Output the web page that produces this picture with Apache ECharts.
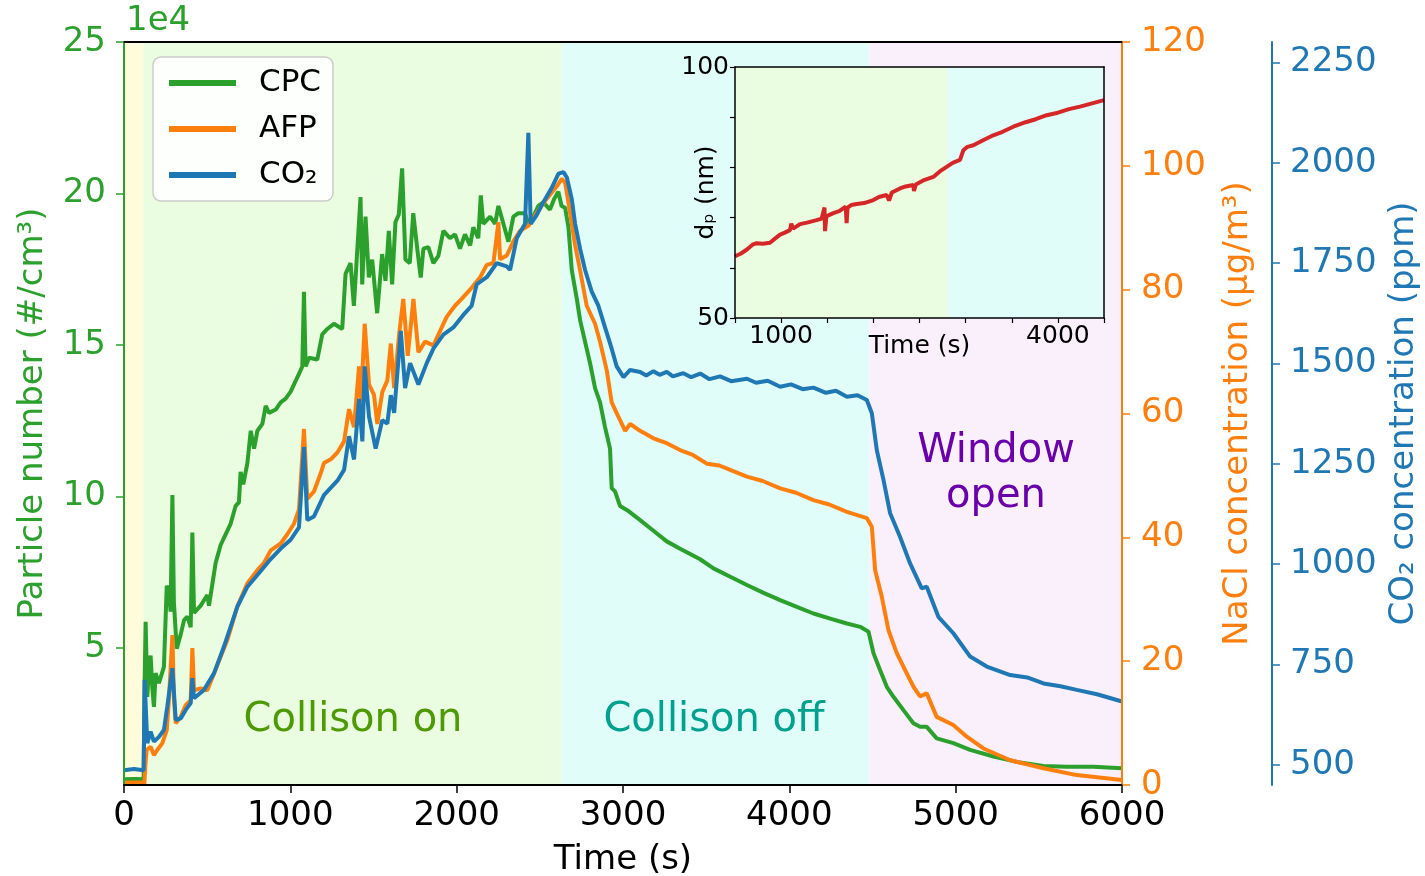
<!DOCTYPE html>
<html>
<head>
<meta charset="utf-8">
<title>Particle number, NaCl and CO2</title>
<script src="https://cdn.jsdelivr.net/npm/echarts@6/dist/echarts.min.js"></script>
<style>
  html, body { margin: 0; padding: 0; background: #fff; }
  #chart { width: 1425px; height: 876px; }
</style>
</head>
<body>
<div id="chart"></div>
<script>
// 颜色 (matplotlib tab10)
var GREEN = '#2ca02c', ORANGE = '#ff7f0e', BLUE = '#1f77b4', RED = '#d62728';
var FONT = 'DejaVu Sans';

// CPC  (#/cm3)
var cpcTime = [0, 60, 118, 124, 130, 140, 150, 160, 170, 180, 190, 210, 240, 257, 270, 280, 291, 300, 317, 341,
  361, 381, 401, 411, 421, 461, 501, 511, 531, 551, 581, 611, 641, 671, 691, 701, 717, 742, 762, 782,
  802, 832, 852, 872, 912, 942, 972, 1002, 1022, 1052, 1072, 1082, 1092, 1112, 1162, 1192, 1222, 1262, 1312, 1332,
  1362, 1382, 1422, 1432, 1452, 1472, 1492, 1522, 1552, 1572, 1592, 1612, 1632, 1652, 1672, 1692, 1718, 1739, 1763, 1784,
  1800, 1830, 1860, 1890, 1920, 1960, 1990, 2020, 2050, 2081, 2100, 2130, 2145, 2160, 2201, 2231, 2251, 2281, 2311, 2341,
  2371, 2411, 2431, 2461, 2491, 2521, 2561, 2586, 2611, 2631, 2652, 2672, 2692, 2722, 2742, 2772, 2802, 2832, 2862, 2892,
  2922, 2932, 2952, 2982, 3033, 3103, 3183, 3263, 3343, 3464, 3544, 3645, 3745, 3845, 3945, 4045, 4145, 4246, 4346, 4426,
  4476, 4506, 4546, 4586, 4626, 4686, 4746, 4786, 4826, 4886, 4986, 5087, 5227, 5388, 5528, 5668, 5829, 6000];
var cpcValue = [6700, 6800, 6700, 39000, 58700, 33900, 43000, 47500, 37000, 30600, 41700, 38400, 43800, 70500, 69100, 62000, 100500, 65000, 49800, 54500,
  59200, 60400, 56900, 88100, 61600, 64000, 67500, 64000, 71000, 78100, 84000, 87500, 91000, 96900, 98100, 108100, 104000, 111100, 121700, 115800,
  121700, 124000, 129900, 127600, 128700, 131100, 132300, 134600, 137000, 140500, 142900, 167600, 142900, 145800, 145200, 153500, 155300, 157000, 155300, 173500,
  177000, 162900, 198800, 170000, 192400, 172300, 178200, 160500, 180000, 171200, 187700, 170000, 190600, 193000, 208300, 178200, 177000, 193500, 181800, 172300,
  181800, 182300, 177000, 179400, 187700, 185300, 186500, 181800, 186500, 182900, 188800, 185300, 199400, 190000, 192400, 190000, 195900, 190000, 184100, 192400,
  193500, 193500, 190000, 192400, 195900, 197100, 194700, 198200, 200600, 195900, 195300, 188800, 174700, 165300, 158200, 151100, 144000, 135800, 131100, 122900,
  115800, 102800, 101700, 96900, 95200, 92200, 88700, 85200, 82800, 79300, 76300, 73500, 70800, 68200, 65800, 63600, 61400, 59700, 58100, 57000,
  55400, 48300, 42700, 37200, 33900, 29500, 25200, 24000, 24000, 20200, 18600, 16400, 14200, 12200, 11100, 10800, 10800, 10300];

// AFP NaCl (µg/m3)
var afpTime = [0, 60, 118, 122, 128, 136, 160, 180, 200, 230, 257, 270, 291, 300, 311, 341, 371, 401, 411, 421,
  461, 501, 541, 581, 621, 681, 742, 802, 842, 882, 942, 982, 1022, 1052, 1082, 1102, 1142, 1182, 1202, 1243,
  1283, 1323, 1353, 1383, 1413, 1425, 1447, 1473, 1503, 1523, 1553, 1583, 1604, 1624, 1654, 1679, 1706, 1740, 1770, 1810,
  1860, 1900, 1940, 1990, 2030, 2090, 2141, 2181, 2221, 2251, 2261, 2301, 2341, 2381, 2431, 2481, 2542, 2602, 2632, 2652,
  2682, 2712, 2742, 2782, 2832, 2862, 2902, 2932, 2972, 3013, 3043, 3103, 3183, 3263, 3343, 3420, 3504, 3580, 3644, 3745,
  3840, 3945, 4040, 4145, 4240, 4346, 4466, 4496, 4516, 4556, 4596, 4646, 4686, 4746, 4786, 4826, 4886, 4986, 5067, 5167,
  5328, 5528, 5728, 6000];
var afpValue = [0.4, 0.4, 0.4, 0, 3.0, 5.65, 6.18, 4.84, 5.65, 6.73, 8.88, 13.7, 24.2, 14.0, 9.96, 11.0, 12.9, 13.7, 22.1, 15.3,
  15.6, 15.3, 18.0, 20.7, 23.4, 28.8, 32.6, 34.7, 35.9, 37.9, 39.0, 40.5, 42.2, 44.5, 57.5, 46.2, 47.4, 50.3, 52.0, 52.6,
  53.7, 55.5, 60.7, 57.8, 67.6, 61.8, 74.5, 64.7, 63.0, 58.3, 63.5, 65.3, 71.3, 64.1, 72.8, 78.5, 69.3, 78.5, 69.9, 71.6,
  71.0, 73.3, 75.6, 77.4, 78.5, 80.3, 82.0, 84.0, 84.3, 90.9, 84.9, 85.5, 87.8, 89.5, 90.3, 92.4, 94.7, 96.7, 97.9, 97.3,
  92.4, 87.2, 83.1, 77.4, 74.5, 71.6, 67.0, 61.8, 59.5, 57.2, 58.3, 57.2, 56.0, 55.2, 54.1, 53.3, 51.9, 51.6, 50.9, 49.8,
  49.1, 47.9, 47.2, 46.0, 45.3, 44.1, 43.1, 41.7, 34.7, 30.4, 25.0, 21.3, 19.1, 15.9, 14.3, 14.8, 11.0, 9.7, 7.8, 5.9,
  4.0, 2.7, 1.6, 0.8];

// CO2 (ppm)
var co2Time = [0, 60, 118, 124, 140, 160, 180, 210, 240, 260, 291, 311, 341, 371, 401, 411, 421, 481, 541, 601,
  681, 742, 802, 882, 942, 1002, 1052, 1082, 1102, 1142, 1202, 1283, 1323, 1353, 1383, 1413, 1433, 1447, 1473, 1513,
  1553, 1583, 1604, 1624, 1664, 1690, 1720, 1770, 1820, 1860, 1920, 1980, 2040, 2090, 2120, 2181, 2241, 2301, 2321, 2361,
  2411, 2431, 2445, 2481, 2521, 2571, 2612, 2642, 2662, 2692, 2712, 2742, 2772, 2812, 2852, 2892, 2932, 2962, 3003, 3043,
  3103, 3140, 3183, 3220, 3263, 3300, 3363, 3410, 3464, 3520, 3584, 3650, 3745, 3800, 3870, 3945, 4010, 4080, 4145, 4220,
  4280, 4346, 4410, 4466, 4496, 4526, 4566, 4606, 4666, 4726, 4796, 4826, 4896, 4986, 5087, 5187, 5328, 5430, 5528, 5630,
  5728, 5850, 6000];
var co2Value = [487, 490, 487, 712, 554, 583, 558, 570, 587, 645, 741, 612, 616, 637, 654, 716, 666, 687, 728, 795,
  894, 944, 973, 1013, 1039, 1061, 1092, 1292, 1110, 1119, 1172, 1208, 1235, 1319, 1261, 1412, 1306, 1493, 1368, 1288,
  1359, 1350, 1421, 1377, 1581, 1439, 1501, 1448, 1501, 1537, 1572, 1590, 1621, 1644, 1697, 1715, 1750, 1742, 1733, 1812,
  1848, 2075, 1848, 1870, 1902, 1937, 1973, 1977, 1964, 1910, 1848, 1786, 1733, 1679, 1644, 1590, 1537, 1493, 1466, 1484,
  1479, 1470, 1481, 1472, 1479, 1468, 1476, 1466, 1475, 1461, 1468, 1456, 1462, 1452, 1457, 1442, 1448, 1436, 1440, 1427,
  1432, 1417, 1421, 1409, 1376, 1284, 1210, 1127, 1068, 1002, 940, 944, 869, 828, 770, 745, 724, 718, 703, 696,
  687, 676, 658];

// 插图: dp (nm)
var dpTime = [500, 560, 626, 690, 735, 800, 879, 940, 988, 1040, 1096, 1110, 1130, 1205, 1280, 1385, 1440, 1470, 1476, 1490,
  1530, 1566, 1630, 1700, 1710, 1720, 1760, 1819, 1900, 2000, 2060, 2144, 2170, 2200, 2289, 2350, 2433, 2440, 2460, 2540,
  2650, 2720, 2794, 2860, 2939, 2960, 2975, 3020, 3084, 3200, 3300, 3400, 3517, 3650, 3760, 3879, 4000, 4120, 4240, 4380, 4500];
var dpValue = [62.3, 62.8, 63.6, 64.6, 64.9, 64.8, 65.0, 65.9, 66.6, 67.0, 67.5, 68.8, 67.8, 68.7, 69.0, 69.5, 69.8, 72.0, 67.3, 70.2,
  70.6, 70.9, 71.3, 72.2, 68.9, 72.0, 72.5, 72.7, 72.9, 73.5, 74.1, 74.5, 73.4, 75.0, 75.8, 76.2, 76.5, 75.3, 76.6, 77.4,
  78.1, 79.2, 80.1, 80.9, 81.5, 81.8, 83.4, 84.1, 84.4, 85.5, 86.4, 87.1, 88.1, 89.0, 89.6, 90.4, 90.9, 91.6, 92.1, 92.8, 93.4];

// 背景分区
var phaseEdges = [0, 116, 2632, 4482, 6000];
var phaseColors = ['#fffcdc', '#ebfde0', '#e0fdfa', '#f9f0fc'];
var insetEdges = [500, 2802, 4500];
var insetColors = ['#ebfde0', '#e0fdfa'];

var cpcTicks = [50000, 100000, 150000, 200000, 250000];
var co2Ticks = [500, 750, 1000, 1250, 1500, 1750, 2000, 2250];

function zip(a, b) {
    var out = [];
    for (var i = 0; i < a.length; i++) out.push([a[i], b[i]]);
    return out;
}
function bands(edges, colors) {
    var out = [];
    for (var i = 0; i < colors.length; i++) {
        out.push([{ xAxis: edges[i], itemStyle: { color: colors[i] } }, { xAxis: edges[i + 1] }]);
    }
    return out;
}
function plain(v) { return String(v); }

var chart = echarts.init(document.getElementById('chart'), null, { renderer: 'canvas' });

var tickFont = { fontFamily: FONT, fontSize: 34 };
var insetFont = { fontFamily: FONT, fontSize: 25, color: '#000' };

var option = {
    animation: false,
    backgroundColor: '#fff',
    textStyle: { fontFamily: FONT },
    grid: [
        { left: 124, right: 303, top: 42, bottom: 91, outerBoundsMode: 'none', containLabel: false },
        { left: 735, top: 67, width: 369, height: 251, outerBoundsMode: 'none', containLabel: false }
    ],
    legend: {
        data: ['CPC', 'AFP', 'CO₂'],
        orient: 'vertical',
        left: 153, top: 57,
        itemWidth: 67, itemHeight: 6, itemGap: 14,
        icon: 'rect',
        padding: [10, 12, 10, 16],
        backgroundColor: 'rgba(255,255,255,0.85)',
        borderColor: '#cccccc', borderWidth: 1.5, borderRadius: 8,
        textStyle: { fontFamily: FONT, fontSize: 31, color: '#000', padding: [0, 0, 0, 18], lineHeight: 32 }
    },
    xAxis: [
        {
            type: 'value', gridIndex: 0, min: 0, max: 6000, interval: 1000, z: 10,
            axisLine: { show: true, onZero: false, lineStyle: { color: '#000', width: 2 } },
            axisTick: { show: true, length: 8, lineStyle: { color: '#000', width: 1.5 } },
            axisLabel: Object.assign({ color: '#000', margin: 14, formatter: plain }, tickFont),
            splitLine: { show: false },
            name: 'Time (s)', nameLocation: 'middle', nameGap: 58, nameMoveOverlap: false,
            nameTextStyle: { fontFamily: FONT, fontSize: 34, color: '#000' }
        },
        {
            type: 'value', gridIndex: 0, position: 'top', min: 0, max: 6000, z: 10,
            axisLine: { show: true, onZero: false, lineStyle: { color: '#000', width: 2 } },
            axisTick: { show: false }, axisLabel: { show: false }, splitLine: { show: false }
        },
        {
            type: 'value', gridIndex: 1, min: 500, max: 4500, interval: 500, z: 10,
            axisLine: { show: true, onZero: false, lineStyle: { color: '#000', width: 1.5 } },
            axisTick: { show: true, length: 5, lineStyle: { color: '#000', width: 1.2 } },
            axisLabel: Object.assign({
                margin: 6,
                formatter: function (v) { return (v === 1000 || v === 4000) ? String(v) : ''; }
            }, insetFont),
            splitLine: { show: false },
            name: 'Time (s)', nameLocation: 'middle', nameGap: 16, nameMoveOverlap: false,
            nameTextStyle: insetFont
        },
        {
            type: 'value', gridIndex: 1, position: 'top', min: 500, max: 4500, z: 10,
            axisLine: { show: true, onZero: false, lineStyle: { color: '#000', width: 1.5 } },
            axisTick: { show: false }, axisLabel: { show: false }, splitLine: { show: false }
        }
    ],
    yAxis: [
        {
            type: 'value', gridIndex: 0, position: 'left', min: 4800, max: 250000, z: 10,
            axisLine: { show: true, onZero: false, lineStyle: { color: GREEN, width: 2 } },
            axisTick: { show: true, length: 8, customValues: cpcTicks, lineStyle: { color: GREEN, width: 1.5 } },
            axisLabel: Object.assign({
                color: GREEN, margin: 18, customValues: cpcTicks,
                formatter: function (v) { return String(Math.round(v / 1e4)); }
            }, tickFont),
            splitLine: { show: false },
            name: 'Particle number (#/cm³)', nameLocation: 'middle', nameRotate: 90, nameGap: 74, nameMoveOverlap: false,
            nameTextStyle: { fontFamily: FONT, fontSize: 34, color: GREEN }
        },
        {
            type: 'value', gridIndex: 0, position: 'right', min: 0, max: 120, interval: 20, z: 10,
            axisLine: { show: true, onZero: false, lineStyle: { color: ORANGE, width: 2 } },
            axisTick: { show: true, length: 8, lineStyle: { color: ORANGE, width: 1.5 } },
            axisLabel: Object.assign({ color: ORANGE, margin: 19, formatter: plain }, tickFont),
            splitLine: { show: false },
            name: 'NaCl concentration (µg/m³)', nameLocation: 'middle', nameRotate: 90, nameGap: 99, nameMoveOverlap: false,
            nameTextStyle: { fontFamily: FONT, fontSize: 34, color: ORANGE }
        },
        {
            type: 'value', gridIndex: 0, position: 'right', offset: 150, min: 450, max: 2301, z: 10,
            axisLine: { show: true, onZero: false, lineStyle: { color: BLUE, width: 2 } },
            axisTick: { show: true, length: 8, customValues: co2Ticks, lineStyle: { color: BLUE, width: 1.5 } },
            axisLabel: Object.assign({ color: BLUE, margin: 18, customValues: co2Ticks, formatter: plain }, tickFont),
            splitLine: { show: false },
            name: 'CO₂ concentration (ppm)', nameLocation: 'middle', nameRotate: 90, nameGap: 115, nameMoveOverlap: false,
            nameTextStyle: { fontFamily: FONT, fontSize: 34, color: BLUE }
        },
        {
            type: 'value', gridIndex: 1, position: 'left', min: 50, max: 100, interval: 10, z: 10,
            axisLine: { show: true, onZero: false, lineStyle: { color: '#000', width: 1.5 } },
            axisTick: { show: true, length: 5, lineStyle: { color: '#000', width: 1.2 } },
            axisLabel: Object.assign({
                margin: 6,
                formatter: function (v) { return (v === 50 || v === 100) ? String(v) : ''; }
            }, insetFont),
            splitLine: { show: false },
            name: 'dₚ (nm)', nameLocation: 'middle', nameRotate: 90, nameGap: 16, nameMoveOverlap: false,
            nameTextStyle: insetFont
        },
        {
            type: 'value', gridIndex: 1, position: 'right', min: 50, max: 100, z: 10,
            axisLine: { show: true, onZero: false, lineStyle: { color: '#000', width: 1.5 } },
            axisTick: { show: false }, axisLabel: { show: false }, splitLine: { show: false }
        }
    ],
    series: [
        {
            name: 'phases', type: 'line', xAxisIndex: 0, yAxisIndex: 1, data: [], z: 1, silent: true,
            markArea: { silent: true, data: bands(phaseEdges, phaseColors) }
        },
        {
            name: 'CPC', type: 'line', xAxisIndex: 0, yAxisIndex: 0, data: zip(cpcTime, cpcValue),
            showSymbol: false, z: 2, color: GREEN, lineStyle: { color: GREEN, width: 4 }
        },
        {
            name: 'AFP', type: 'line', xAxisIndex: 0, yAxisIndex: 1, data: zip(afpTime, afpValue),
            showSymbol: false, z: 3, color: ORANGE, lineStyle: { color: ORANGE, width: 4 }
        },
        {
            name: 'CO₂', type: 'line', xAxisIndex: 0, yAxisIndex: 2, data: zip(co2Time, co2Value),
            showSymbol: false, z: 4, color: BLUE, lineStyle: { color: BLUE, width: 4 }
        },
        {
            name: 'insetPhases', type: 'line', xAxisIndex: 2, yAxisIndex: 3, data: [], z: 5, silent: true,
            markArea: { silent: true, data: bands(insetEdges, insetColors) }
        },
        {
            name: 'dp', type: 'line', xAxisIndex: 2, yAxisIndex: 3, data: zip(dpTime, dpValue),
            showSymbol: false, z: 6, color: RED, lineStyle: { color: RED, width: 4 }
        }
    ],
    graphic: [
        { type: 'text', left: 126, top: 4, z: 100, style: { text: '1e4', fill: GREEN, fontFamily: FONT, fontSize: 34 } },
        { type: 'text', x: 353, y: 721, z: 100, style: { text: 'Collison on', fill: '#4e9a06', fontFamily: FONT, fontSize: 40, align: 'center', verticalAlign: 'middle' } },
        { type: 'text', x: 714, y: 721, z: 100, style: { text: 'Collison off', fill: '#00a08e', fontFamily: FONT, fontSize: 40, align: 'center', verticalAlign: 'middle' } },
        { type: 'text', x: 996, y: 452, z: 100, style: { text: 'Window', fill: '#6a00aa', fontFamily: FONT, fontSize: 40, align: 'center', verticalAlign: 'middle' } },
        { type: 'text', x: 996, y: 497, z: 100, style: { text: 'open', fill: '#6a00aa', fontFamily: FONT, fontSize: 40, align: 'center', verticalAlign: 'middle' } }
    ]
};

chart.setOption(option);
</script>
</body>
</html>
